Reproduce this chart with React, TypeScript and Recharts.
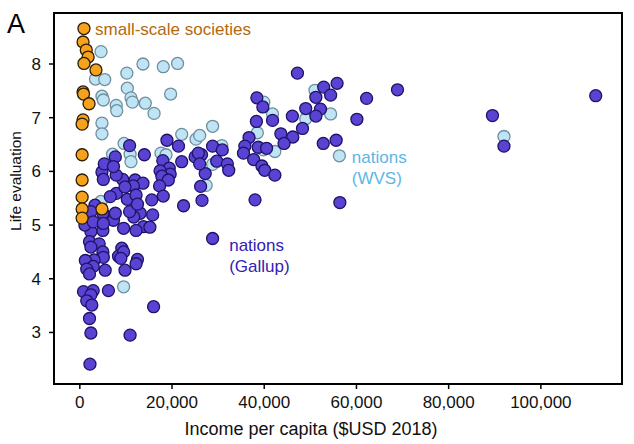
import { ScatterChart, Scatter, XAxis, YAxis, ReferenceArea } from "recharts";

const FONT = '"Liberation Sans", Arial, sans-serif';

// [income per capita, life evaluation]
const smallScale = [
  [900, 8.66], [700, 8.41], [1400, 8.26], [1800, 8.13], [900, 8.01], [3500, 7.89],
  [700, 7.48], [800, 7.44], [2000, 7.26], [700, 6.96], [500, 6.88], [500, 6.31],
  [500, 5.84], [500, 5.52], [500, 5.3], [4800, 5.3], [500, 5.13],
];

const wvsNations = [
  [4600, 8.23], [13700, 8.0], [18100, 7.95], [21200, 8.01], [10200, 7.83], [3400, 7.72],
  [5400, 7.71], [10300, 7.55], [19700, 7.44], [4800, 7.4], [5100, 7.33], [11100, 7.37],
  [11400, 7.29], [14200, 7.27], [7900, 7.23], [8000, 7.13], [16100, 7.08], [4800, 6.9],
  [4800, 6.7], [28800, 6.84], [22100, 6.69], [25200, 6.6], [26000, 6.67], [9600, 6.52],
  [7100, 6.32], [10900, 6.32], [11100, 6.18], [17600, 6.34], [18700, 6.31], [30800, 6.48],
  [28800, 6.13], [27400, 5.74], [4600, 5.44], [9500, 3.85], [51000, 7.51], [39900, 7.29],
  [41800, 7.07], [49000, 6.98], [54400, 7.07], [38500, 6.72], [42300, 6.37], [39800, 6.4],
  [56300, 6.29], [92000, 6.65],
];

const gallupNations = [
  // richer nations
  [47200, 7.83], [52900, 7.57], [55800, 7.64], [68900, 7.52], [62200, 7.36], [51200, 7.38],
  [54400, 7.42], [38400, 7.37], [39700, 7.2], [49000, 7.17], [52200, 7.16], [38300, 6.93],
  [41800, 6.95], [46100, 7.03], [51200, 7.03], [60100, 6.97], [48300, 6.8], [36700, 6.63],
  [43600, 6.7], [46200, 6.64], [44300, 6.52], [52800, 6.52], [55600, 6.58], [35800, 6.47],
  [38700, 6.45], [40500, 6.43], [35500, 6.34], [37700, 6.22], [39500, 6.1], [40100, 6.02],
  [42300, 5.93], [28800, 6.47], [30900, 6.4], [26400, 6.31], [29700, 6.19], [32000, 6.14],
  [32300, 6.02], [27200, 5.96], [26200, 5.72], [26500, 5.46], [38000, 5.47], [56400, 5.42],
  [28800, 4.75], [89500, 7.04], [92000, 6.47], [111900, 7.41],
  // middle
  [18900, 6.58], [21400, 6.47], [10800, 6.48], [14000, 6.31], [18000, 6.2], [19400, 6.06],
  [19600, 5.95], [22100, 6.18], [25000, 6.27], [25700, 6.34], [26000, 6.14], [17400, 6.01],
  [17800, 5.91], [19200, 5.84], [17300, 5.73], [15600, 5.47], [18100, 5.54], [22500, 5.36],
  [9300, 5.85], [12000, 5.84], [13700, 5.78], [10300, 5.48], [11600, 5.73], [13100, 5.22],
  [11700, 5.15], [10800, 5.25], [15800, 5.19], [13800, 4.97], [12200, 4.9], [15200, 4.96],
  [9500, 4.94], [9100, 4.57],
  // poorer nations
  [4800, 5.99], [7900, 5.93], [7900, 5.59], [12200, 5.56], [12500, 5.39], [3300, 5.37],
  [2400, 5.25], [5000, 5.22], [7300, 5.09], [7700, 5.22], [5000, 4.9], [2400, 4.88],
  [1100, 5.0], [2900, 5.06], [5100, 5.03], [2100, 4.69], [4200, 4.65], [2400, 4.59],
  [5000, 4.5], [5100, 4.4], [3100, 4.35], [1200, 4.34], [2900, 4.23], [1500, 4.18],
  [2100, 4.09], [5500, 4.16], [8400, 4.42], [9500, 4.5], [8900, 4.38], [12500, 4.36],
  [12200, 4.28], [9800, 4.16], [800, 3.76], [2900, 3.78], [2400, 3.7], [1500, 3.59],
  [2600, 3.51], [6200, 3.78], [16000, 3.48], [2100, 3.26], [2400, 2.99], [10900, 2.95],
  [2200, 2.41], [7700, 6.27], [5300, 6.14], [7300, 6.09], [5100, 5.85], [6600, 5.53],
  [9800, 5.71],
];

const xTicks = [0, 20000, 40000, 60000, 80000, 100000];
const yTicks = [3, 4, 5, 6, 7, 8];
const xDomain = [-5600, 117600];
const yDomain = [2.04, 8.95];

// group labels, anchored at the start of the first line
const notes = [
  { x: 3300, y: 8.65, lines: ["small-scale societies"], color: "#b5680d" },
  { x: 59000, y: 6.27, lines: ["nations", "(WVS)"], color: "#5db6e4" },
  { x: 32400, y: 4.63, lines: ["nations", "(Gallup)"], color: "#3420b4" },
];

const toPoints = (rows: number[][]) => rows.map(([x, y]) => ({ x, y }));

const dot = (fill: string, stroke: string) => (props: any) => (
  <circle cx={props.cx} cy={props.cy} r={6} fill={fill} stroke={stroke} strokeWidth={1.3} />
);

const noteShape = (props: any) => {
  const p = props.payload;
  return (
    <text x={props.cx} y={props.cy} fill={p.color} fontSize={17} fontFamily={FONT} dominantBaseline="central">
      {p.lines.map((line: string, i: number) => (
        <tspan key={i} x={props.cx} dy={i === 0 ? 0 : 21}>
          {line}
        </tspan>
      ))}
    </text>
  );
};

// axis titles sit a bit off-centre in the original figure
const xTitle = () => (
  <text x={311} y={429} textAnchor="middle" dominantBaseline="central" fill="#111" fontSize={18} fontFamily={FONT}>
    Income per capita ($USD 2018)
  </text>
);

const yTitle = () => (
  <text
    x={15.5}
    y={181}
    transform="rotate(-90, 15.5, 181)"
    textAnchor="middle"
    dominantBaseline="central"
    fill="#111"
    fontSize={15.5}
    fontFamily={FONT}
  >
    Life evaluation
  </text>
);

export default function App() {
  return (
    <div style={{ position: "absolute", left: 0, top: 0, width: 634, height: 444, background: "#fff", fontFamily: FONT }}>
      <div style={{ position: "absolute", left: 7, top: 9, fontSize: 27, color: "#000" }}>A</div>
      <ScatterChart width={634} height={444} margin={{ top: 13, right: 12, left: 0, bottom: 0 }}>
        <XAxis
          type="number"
          dataKey="x"
          domain={xDomain}
          ticks={xTicks}
          allowDataOverflow
          tickFormatter={(v: number) => v.toLocaleString("en-US")}
          height={60}
          tickSize={5}
          tickMargin={7}
          stroke="#000"
          tick={{ fill: "#111", fontSize: 17, fontFamily: FONT }}
          axisLine={{ stroke: "#000", strokeWidth: 2 }}
          tickLine={{ stroke: "#000", strokeWidth: 1.5 }}
          label={{ content: xTitle }}
        />
        <YAxis
          type="number"
          dataKey="y"
          domain={yDomain}
          ticks={yTicks}
          allowDataOverflow
          width={54}
          tickSize={5}
          tickMargin={8}
          stroke="#000"
          tick={{ fill: "#111", fontSize: 17, fontFamily: FONT }}
          axisLine={{ stroke: "#000", strokeWidth: 2 }}
          tickLine={{ stroke: "#000", strokeWidth: 1.5 }}
          label={{ content: yTitle }}
        />
        <ReferenceArea x1={xDomain[0]} x2={xDomain[1]} y1={yDomain[0]} y2={yDomain[1]} fill="none" stroke="#000" strokeWidth={2} />
        <Scatter data={toPoints(wvsNations)} shape={dot("#bfe4f6", "#6f8f9e")} isAnimationActive={false} />
        <Scatter data={toPoints(gallupNations)} shape={dot("#5a42d2", "#1d1468")} isAnimationActive={false} />
        <Scatter data={toPoints(smallScale)} shape={dot("#f7a21c", "#2a1e05")} isAnimationActive={false} />
        <Scatter data={notes} shape={noteShape} isAnimationActive={false} />
      </ScatterChart>
    </div>
  );
}
